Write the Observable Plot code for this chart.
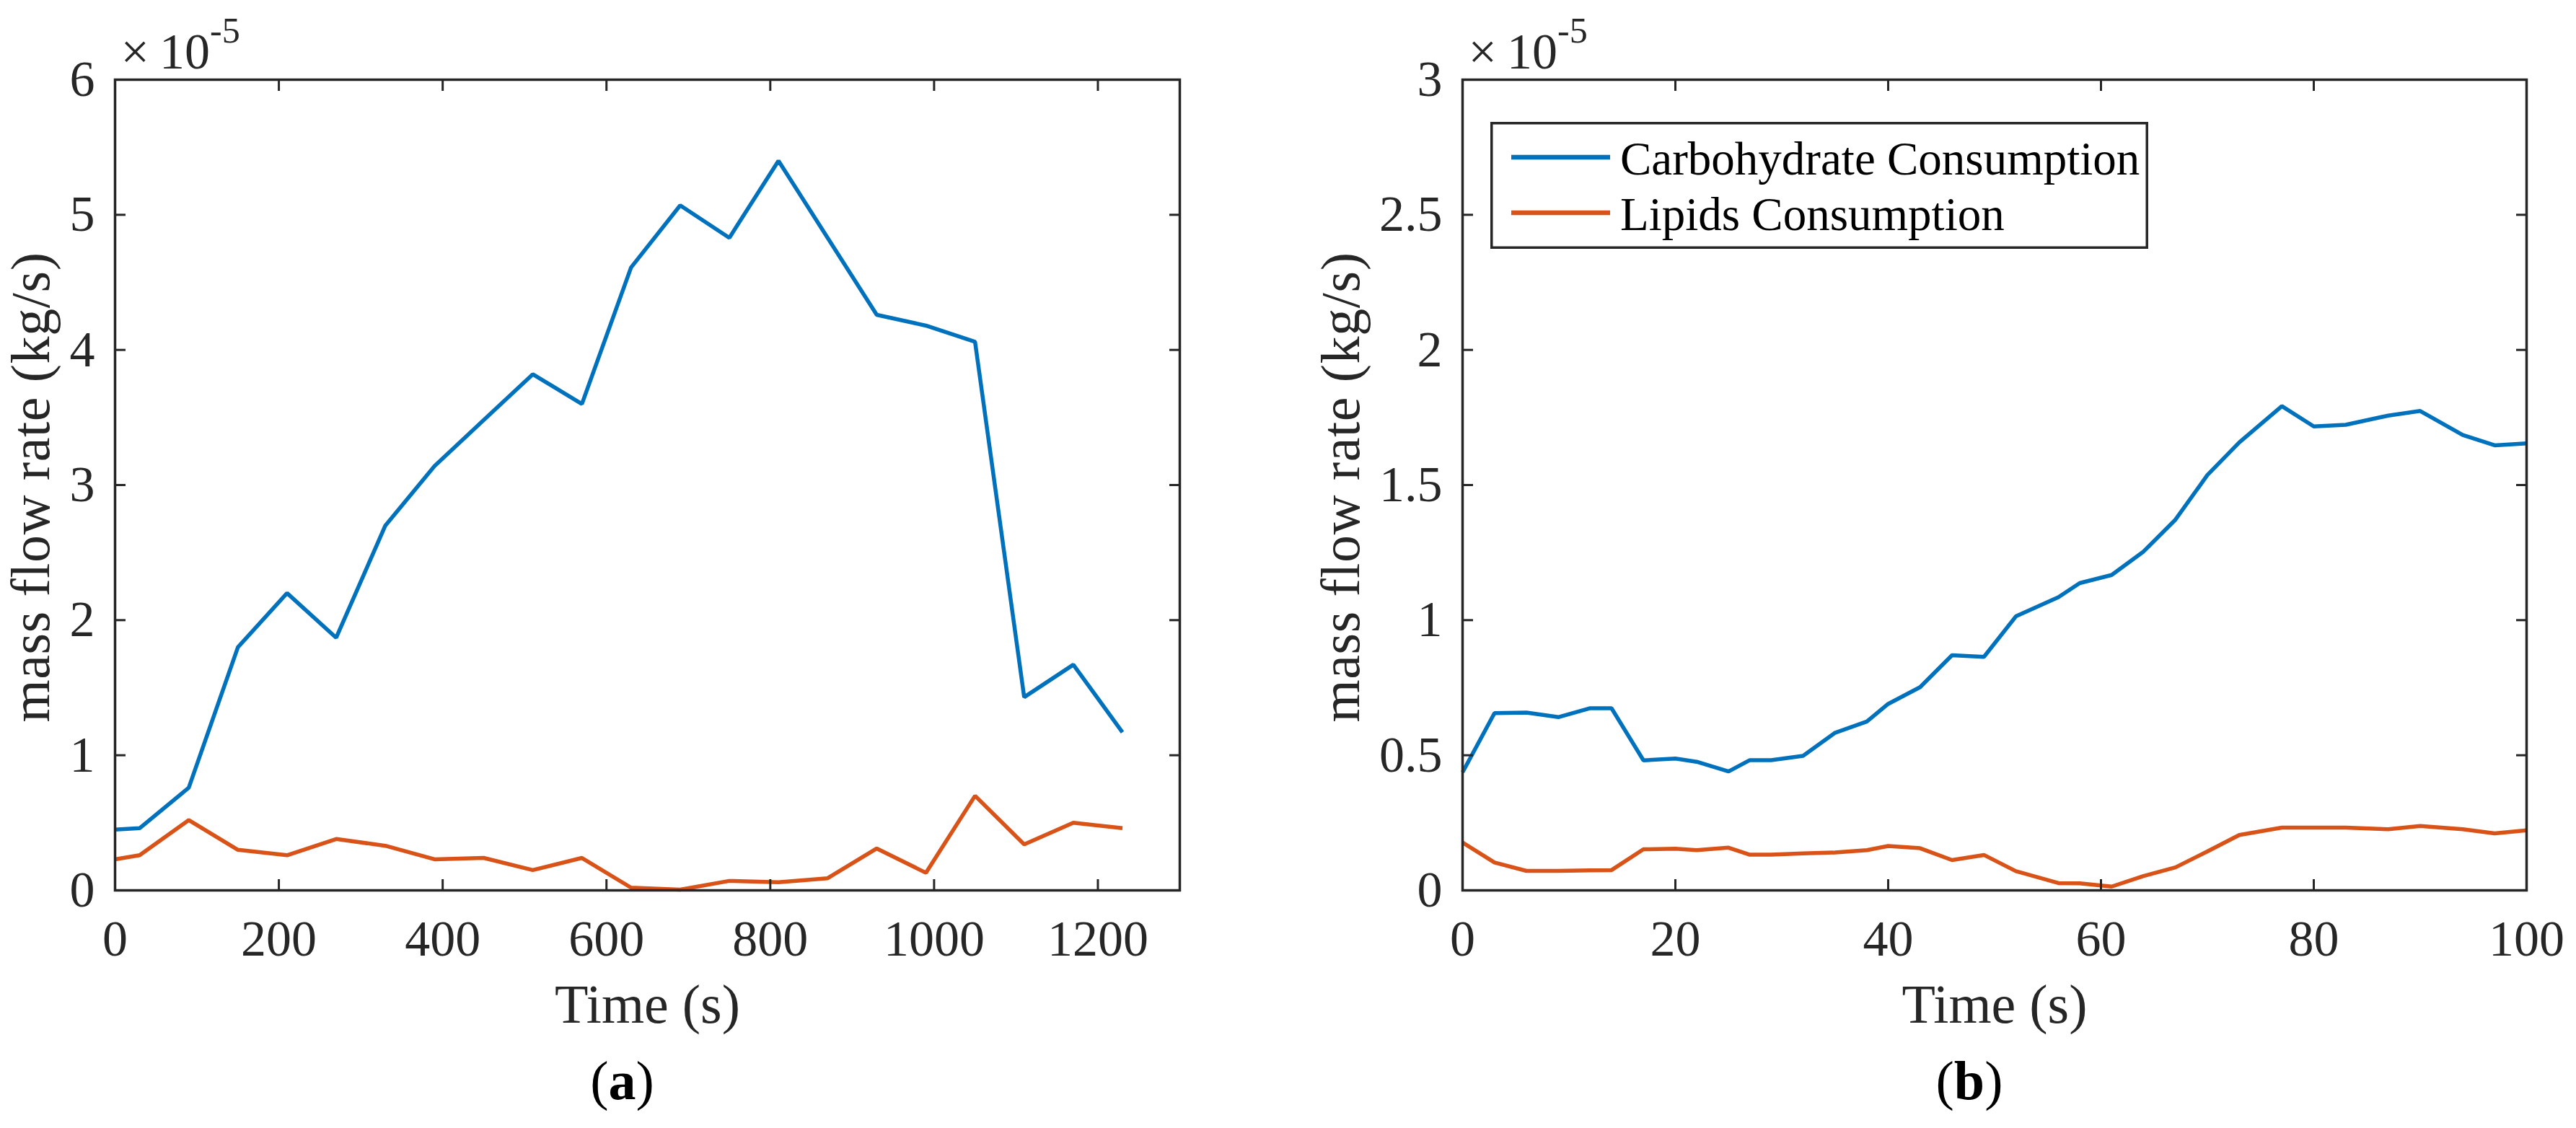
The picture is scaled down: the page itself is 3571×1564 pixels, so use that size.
<!DOCTYPE html>
<html>
<head>
<meta charset="utf-8">
<script src="https://cdn.jsdelivr.net/npm/d3@7"></script>
<script src="https://cdn.jsdelivr.net/npm/@observablehq/plot@0.6"></script>
<style>
  html, body { margin: 0; padding: 0; background: #ffffff; }
  #wrap { position: relative; width: 3571px; height: 1564px; background: #ffffff; overflow: hidden; }
  #panelA { position: absolute; left: 0px; top: 0px; }
  #panelB { position: absolute; left: 1785px; top: 0px; }
  #legend { position: absolute; left: 2066px; top: 169px; }
</style>
</head>
<body>
<div id="wrap">
  <div id="panelA"></div>
  <div id="panelB"></div>
  <svg id="legend" width="912" height="176"></svg>
</div>
<script>
// ---------------- data (mass flow rate in units of 1e-5 kg/s) ----------------
const seriesNames = ["Carbohydrate Consumption", "Lipids Consumption"];
const seriesColors = ["#0072BD", "#D95319"];

// panel (a)
const timeA = [0, 30, 90, 150, 210, 270, 330, 390, 450, 510, 570, 630, 690, 750, 810, 870, 930, 990, 1050, 1110, 1170, 1230];
const carbA = [0.45, 0.46, 0.76, 1.80, 2.20, 1.87, 2.70, 3.14, 3.48, 3.82, 3.60, 4.61, 5.07, 4.83, 5.40, 4.83, 4.26, 4.18, 4.06, 1.43, 1.67, 1.17];
const lipidA = [0.23, 0.26, 0.52, 0.30, 0.26, 0.38, 0.33, 0.23, 0.24, 0.15, 0.24, 0.02, 0.005, 0.07, 0.06, 0.09, 0.31, 0.13, 0.70, 0.34, 0.50, 0.46];

// panel (b)
const timeB = [0, 3, 6, 9, 12, 14, 17, 20, 22, 25, 27, 29, 32, 35, 38, 40, 43, 46, 49, 52, 56, 58, 61, 64, 67, 70, 73, 77, 80, 83, 87, 90, 94, 97, 100];
const carbB = [0.437, 0.656, 0.658, 0.641, 0.674, 0.674, 0.481, 0.488, 0.476, 0.440, 0.482, 0.482, 0.498, 0.583, 0.625, 0.690, 0.752, 0.870, 0.864, 1.014, 1.085, 1.137, 1.167, 1.254, 1.372, 1.537, 1.658, 1.792, 1.717, 1.723, 1.757, 1.774, 1.685, 1.647, 1.654];
const lipidB = [0.177, 0.103, 0.072, 0.072, 0.074, 0.075, 0.152, 0.154, 0.149, 0.158, 0.132, 0.132, 0.137, 0.140, 0.149, 0.164, 0.156, 0.112, 0.131, 0.071, 0.027, 0.026, 0.014, 0.053, 0.085, 0.144, 0.205, 0.232, 0.232, 0.232, 0.226, 0.238, 0.226, 0.211, 0.222];

// axes
const xTicksA = [0, 200, 400, 600, 800, 1000, 1200];
const yTicksA = [0, 1, 2, 3, 4, 5, 6];
const xTicksB = [0, 20, 40, 60, 80, 100];
const yTicksB = [0, 0.5, 1, 1.5, 2, 2.5, 3];
const xLabel = "Time (s)";
const yLabel = "mass flow rate (kg/s)";
const multiplierBase = "×10";
const multiplierExp = "-5";
const panelTags = ["a", "b"];

// ---------------- drawing ----------------
const FONT = "'Liberation Serif', 'Times New Roman', Times, serif";
const AXIS_COLOR = "#262626";

function rows(time, a, b) {
  return time.flatMap((t, i) => [
    {t, v: a[i], s: seriesNames[0]},
    {t, v: b[i], s: seriesNames[1]}
  ]);
}

function panel({width, marginLeft, marginRight, xDomain, yDomain, xTicks, yTicks, data, tag, yLabelDx}) {
  const fmt = d => String(d);
  const blank = () => "";
  const svg = Plot.plot({
    width, height: 1564,
    marginLeft, marginRight, marginTop: 110, marginBottom: 330,
    x: {domain: xDomain},
    y: {domain: yDomain},
    color: {domain: seriesNames, range: seriesColors},
    style: {fontFamily: FONT, fontSize: "70px", color: AXIS_COLOR, background: "white", overflow: "visible"},
    marks: [
      Plot.line(data, {x: "t", y: "v", stroke: "s", strokeWidth: 5.5, strokeLinejoin: "miter", strokeLinecap: "butt"}),
      // tick labels
      Plot.axisX({ticks: xTicks, tickSize: 0, tickPadding: 41, tickFormat: fmt, label: null, fill: AXIS_COLOR, fontSize: 70}),
      Plot.axisY({ticks: yTicks, tickSize: 0, tickPadding: 28, tickFormat: fmt, label: null, fill: AXIS_COLOR, fontSize: 70}),
      // inward tick marks on all four sides
      Plot.axisX({ticks: xTicks, tickSize: -15, tickFormat: blank, label: null, stroke: AXIS_COLOR, strokeWidth: 3}),
      Plot.axisX({anchor: "top", ticks: xTicks, tickSize: -15, tickFormat: blank, label: null, stroke: AXIS_COLOR, strokeWidth: 3}),
      Plot.axisY({ticks: yTicks, tickSize: -15, tickFormat: blank, label: null, stroke: AXIS_COLOR, strokeWidth: 3}),
      Plot.axisY({anchor: "right", ticks: yTicks, tickSize: -15, tickFormat: blank, label: null, stroke: AXIS_COLOR, strokeWidth: 3}),
      Plot.frame({stroke: AXIS_COLOR, strokeWidth: 3.5}),
      // axis titles
      Plot.text([xLabel], {frameAnchor: "bottom", lineAnchor: "bottom", dy: 183, fontSize: 76, fill: AXIS_COLOR}),
      Plot.text([yLabel], {frameAnchor: "left", rotate: -90, lineAnchor: "bottom", textAnchor: "middle", dx: yLabelDx, dy: 3, fontSize: 76, fill: AXIS_COLOR, className: "ylab"}),
      // multiplier
      Plot.text([multiplierBase], {frameAnchor: "top-left", textAnchor: "start", lineAnchor: "bottom", dx: 8, dy: -16, fontSize: 70, fill: AXIS_COLOR, className: "mult"}),
      // panel tag
      Plot.text([`(${tag})`], {frameAnchor: "bottom", lineAnchor: "bottom", dx: -35, dy: 289, fontSize: 76, fill: "#000000", className: "tag"})
    ]
  });
  const s = d3.select(svg);
  s.selectAll(".ylab text").style("letter-spacing", "0.6px");
  s.selectAll(".mult text").each(function () {
    const t = d3.select(this);
    t.text("");
    t.append("tspan").text(multiplierBase.slice(0, 1));
    t.append("tspan").attr("dx", 14).text(multiplierBase.slice(1));
    t.append("tspan").attr("dy", -36).style("font-size", "50px").text(multiplierExp);
  });
  s.selectAll(".tag text").each(function () {
    const t = d3.select(this);
    t.text("");
    t.append("tspan").text("(");
    t.append("tspan").attr("font-weight", "bold").text(tag);
    t.append("tspan").text(")");
  });
  return svg;
}

document.getElementById("panelA").appendChild(panel({
  width: 1785, marginLeft: 159, marginRight: 150,
  xDomain: [0, 1300], yDomain: [0, 6], xTicks: xTicksA, yTicks: yTicksA,
  data: rows(timeA, carbA, lipidA), tag: panelTags[0], yLabelDx: -92
}));

document.getElementById("panelB").appendChild(panel({
  width: 1786, marginLeft: 242, marginRight: 69,
  xDomain: [0, 100], yDomain: [0, 3], xTicks: xTicksB, yTicks: yTicksB,
  data: rows(timeB, carbB, lipidB), tag: panelTags[1], yLabelDx: -144
}));

// legend (inside panel b, north-west)
const lg = d3.select("#legend");
lg.append("rect").attr("x", 1.75).attr("y", 1.75).attr("width", 908.5).attr("height", 172.5)
  .attr("fill", "white").attr("stroke", AXIS_COLOR).attr("stroke-width", 3.5);
const items = lg.selectAll("g.item").data(seriesNames).join("g").attr("class", "item")
  .attr("transform", (d, i) => `translate(0, ${i * 77})`);
items.append("line").attr("x1", 29).attr("x2", 166).attr("y1", 49).attr("y2", 49)
  .attr("stroke", (d, i) => seriesColors[i]).attr("stroke-width", 6.5);
items.append("text").attr("x", 180).attr("y", 73).text(d => d)
  .attr("fill", "#000").style("font-family", FONT).style("font-size", "65px");
</script>
</body>
</html>
